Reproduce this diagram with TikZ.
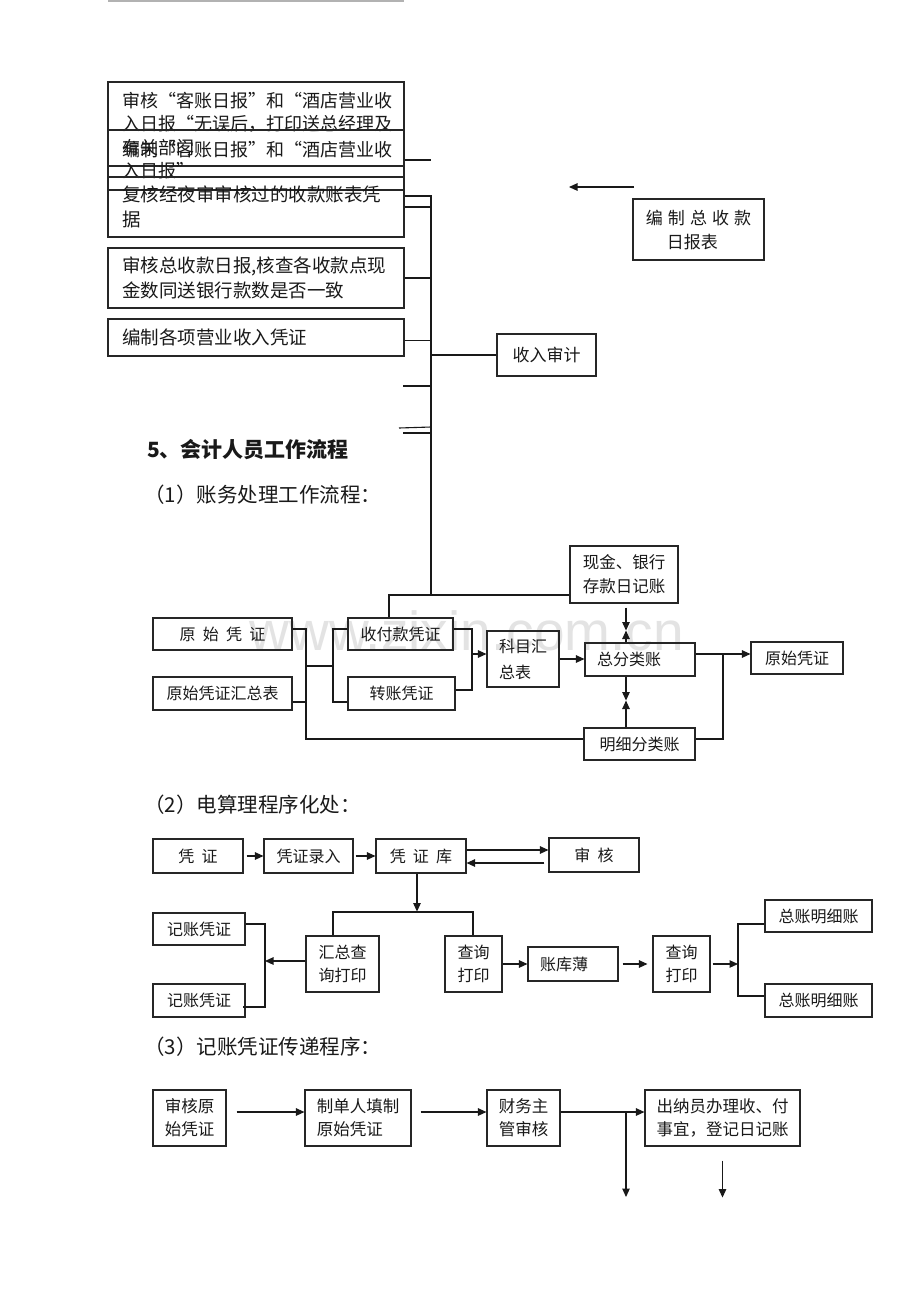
\documentclass[tikz,border=0pt]{standalone}
\usepackage{fontspec}
\setmainfont{Noto Sans CJK SC}
\newfontfamily\wmfont{Liberation Sans}
\usetikzlibrary{arrows.meta,calc}
\newcommand\fs[2]{\fontsize{#1pt}{#2pt}\selectfont}
\newcommand\gap{\hspace{0.45em}}
\newcommand\mkbox[7][]{\node[box,minimum width={#5pt-#3pt},minimum height={#6pt-#4pt},align=center,#1] (#2) at ({(#3+#5)/2},{(#4+#6)/2}) {#7};}
\newcommand\mkpbox[8][]{\node[box,minimum width={#5pt-#3pt},minimum height={#6pt-#4pt},inner xsep=#7pt,text width={#5pt-#3pt-2*#7pt},align=left,#1] (#2) at ({(#3+#5)/2},{(#4+#6)/2}) {#8};}
\begin{document}
\begin{tikzpicture}[x=1pt,y=-1pt,
 box/.style={draw=black!85, line width=1.1pt, inner sep=0pt, font=\fs{16}{23}, text=black!90},
 ln/.style={line width=1.1pt, draw=black!90},
 arr/.style={ln, -{Triangle[length=8.5pt,width=7.5pt]}},
 head/.style={anchor=west, inner sep=0pt, text=black!90}]
\useasboundingbox (0,0) rectangle (920,1302);
\fill[white] (0,0) rectangle (920,1302);

% watermark
\node[anchor=base east, inner sep=0pt, font=\wmfont\fontsize{55pt}{55pt}\selectfont, text=black!11] (wm) at (684,650) {www.zixin.com.cn};

% top rule
\coordinate (tl1) at (108,1); \coordinate (tl2) at (404,1);
\draw[gray!60, line width=1.2pt] (tl1) -- (tl2);

% ---------- top part ----------
\mkpbox[font=\fs{18}{23.5}]{a1}{108}{82}{404}{166}{14}{审核“客账日报”和“酒店营业收\\入日报“无误后，打印送总经理及\\有关部门}
\mkpbox[font=\fs{18}{21}]{a2}{108}{130}{404}{190}{14}{编制“客账日报”和“酒店营业收\\入日报”}
\mkpbox[font=\fs{18.5}{25}]{a3}{108}{177}{404}{237}{14}{复核经夜审审核过的收款账表凭\\据}
\mkpbox[font=\fs{18.5}{25}]{b1}{108}{248}{404}{308}{14}{审核总收款日报,核查各收款点现\\金数同送银行款数是否一致}
\mkpbox[font=\fs{18.5}{24}]{c1}{108}{319}{404}{356}{14}{编制各项营业收入凭证}
\mkbox[font=\fs{17}{24}]{sr}{497}{334}{596}{376}{收入审计}
\mkbox[align=left,font=\fs{17}{24}]{zb}{633}{199}{764}{260}{编\hspace{0.3em}制\hspace{0.3em}总\hspace{0.3em}收\hspace{0.3em}款\\\hspace*{21pt}日报表}

% headings
\node[head, font=\fs{21}{25}\bfseries] (h5) at (147,450) {5、会计人员工作流程};
\node[head, font=\fs{20.5}{25}] (h1) at (144,495) {（1）账务处理工作流程：};
\node[head, font=\fs{20.5}{25}] (h2) at (144,805) {（2）电算理程序化处：};
\node[head, font=\fs{20.5}{25}] (h3) at (144,1047) {（3）记账凭证传递程序：};

% ---------- section 1 ----------
\mkbox{ys1}{153}{618}{292}{650}{原\gap 始\gap 凭\gap 证}
\mkbox{ysh}{153}{677}{292}{710}{原始凭证汇总表}
\mkbox{skp}{348}{618}{453}{650}{收付款凭证}
\mkbox{zz}{348}{677}{455}{710}{转账凭证}
\mkbox[align=left,font=\fs{16}{26}]{km}{487}{631}{559}{687}{科目汇\\总表}
\mkpbox{zfl}{585}{643}{695}{676}{12}{总分类账}
\mkbox[font=\fs{16.5}{24}]{xj}{570}{546}{678}{603}{现金、银行\\存款日记账}
\mkbox{mx}{584}{728}{695}{760}{明细分类账}
\mkbox{ys2}{751}{642}{843}{674}{原始凭证}

% ---------- section 2 ----------
\mkbox{pz}{153}{839}{243}{873}{凭\gap 证}
\mkbox{pzlr}{264}{839}{353}{873}{凭证录入}
\mkbox{pzk}{376}{839}{466}{873}{凭\gap 证\gap 库}
\mkbox{sh}{549}{838}{639}{872}{审\gap 核}
\mkbox{jz1}{153}{913}{245}{945}{记账凭证}
\mkbox{jz2}{153}{984}{245}{1017}{记账凭证}
\mkbox[align=left]{hz}{306}{936}{379}{992}{汇总查\\询打印}
\mkbox[align=left]{cx1}{445}{936}{502}{992}{查询\\打印}
\mkpbox{zkb}{528}{947}{618}{981}{12}{账库薄}
\mkbox[align=left]{cx2}{653}{936}{710}{992}{查询\\打印}
\mkbox{zm1}{765}{900}{872}{932}{总账明细账}
\mkbox{zm2}{765}{984}{872}{1017}{总账明细账}

% ---------- section 3 ----------
\mkbox[align=left,font=\fs{16.5}{23}]{s31}{153}{1090}{226}{1146}{审核原\\始凭证}
\mkbox[align=left,font=\fs{16.5}{23}]{s32}{305}{1090}{411}{1146}{制单人填制\\原始凭证}
\mkbox[align=left,font=\fs{16.5}{23}]{s33}{487}{1090}{560}{1146}{财务主\\管审核}
\mkbox[align=left,font=\fs{16.5}{23}]{s34}{645}{1090}{800}{1146}{出纳员办理收、付\\事宜，登记日记账}

% ---------- connectors: top ----------
\coordinate (t1) at (431,196);
\coordinate (t2) at (431,596);
\draw[ln] ($(a3.east)+(0,-11)$) -- (t1) -- (t2);
\draw[ln] (a2.east) -- (a2.east -| t1);
\draw[ln] (a3.east) -- (a3.east -| t1);
\draw[ln] (b1.east) -- (b1.east -| t1);
\draw[ln] ([yshift=-3pt]c1.east) -- ([yshift=-3pt]c1.east -| t1);
\draw[ln] (sr.west -| t1) -- (sr.west);
\coordinate (s1) at (403,386); \draw[ln] (s1) -- (s1 -| t1);
\coordinate (s2) at (399,428); \coordinate (s2e) at (431,427); \draw[ln] (s2) -- (s2e);
\coordinate (s3) at (403,433); \draw[ln] (s3) -- (s3 -| t1);
\coordinate (ar1) at (634,187); \coordinate (ar2) at (569,187); \draw[arr] (ar1) -- (ar2);
\coordinate (j1) at (389,595);
\draw[ln] (xj.west |- j1) -- (j1) -- (j1 |- skp.north);

% ---------- connectors: section 1 ----------
\coordinate (v1) at (306,629);
\coordinate (v1b) at (306,739);
\coordinate (v1c) at (306,702);
\coordinate (v2m) at (333,666);
\coordinate (v2a) at (333,629);
\coordinate (v2b) at (333,702);
\coordinate (v3a) at (472,629);
\coordinate (v3b) at (472,690);
\coordinate (v3m) at (472,654);
\draw[ln] (ys1.east |- v1) -- (v1) -- (v1b) -- (mx.west |- v1b);
\draw[ln] (ysh.east |- v1c) -- (v1c);
\draw[ln] (v1 |- v2m) -- (v2m);
\draw[ln] (skp.west |- v2a) -- (v2a) -- (v2b) -- (zz.west |- v2b);
\draw[ln] (skp.east |- v3a) -- (v3a) -- (v3b) -- (zz.east |- v3b);
\draw[arr] (v3m) -- (km.west |- v3m);
\draw[arr] (km.east) -- (zfl.west |- km.east);
\coordinate (xa) at ($(xj.south)+(2,0)$);
\draw[arr] ($(xa)+(0,4)$) -- ($(xa)+(0,27)$);
\draw[arr] (zfl.north -| xa) -- ($(xa)+(0,27)$);
\draw[arr] (zfl.south -| xa) -- ($(zfl.south -| xa)+(0,24)$);
\draw[arr] (mx.north -| xa) -- ($(zfl.south -| xa)+(0,24)$);
\coordinate (r1) at (723,654);
\coordinate (r2) at (723,739);
\draw[arr] (zfl.east |- r1) -- (ys2.west |- r1);
\draw[ln] (r1) -- (r2) -- (mx.east |- r2);

% ---------- connectors: section 2 ----------
\draw[arr] ([xshift=3pt]pz.east) -- (pzlr.west);
\draw[arr] ([xshift=2pt]pzlr.east) -- (pzk.west);
\draw[arr] ([yshift=6pt]pzk.east) -- ([yshift=6pt]pzk.east -| sh.west);
\draw[arr] ([xshift=-4pt,yshift=-7pt]pzk.east -| sh.west) -- ([yshift=-7pt]pzk.east);
\coordinate (h1c) at (333,912);
\coordinate (h2c) at (473,912);
\draw[arr] ([xshift=-4pt]pzk.south) -- ([xshift=-4pt,yshift=-38pt]pzk.south);
\draw[ln] (hz.north -| h1c) -- (h1c) -- (h2c) -- (cx1.north -| h2c);
\coordinate (k1) at (265,961);
\coordinate (k2) at (265,924);
\coordinate (k3) at (265,1007);
\draw[arr] (hz.west |- k1) -- (k1);
\draw[ln] (jz1.east |- k2) -- (k2) -- (k3) -- ([xshift=-3pt]jz2.east |- k3);
\draw[arr] (cx1.east) -- (zkb.west);
\draw[arr] ([xshift=4pt]zkb.east) -- ([xshift=-5pt]cx2.west);
\coordinate (m1) at (738,964);
\coordinate (n1) at (738,924);
\coordinate (n2) at (738,996);
\draw[arr] ([xshift=2pt]cx2.east) -- (m1);
\draw[ln] (zm1.west |- n1) -- (n1) -- (n2) -- (zm2.west |- n2);

% ---------- connectors: section 3 ----------
\draw[arr] ([xshift=10pt,yshift=6pt]s31.east) -- ([yshift=6pt]s32.west);
\draw[arr] ([xshift=9pt,yshift=6pt]s32.east) -- ([yshift=6pt]s33.west);
\draw[arr] ([yshift=6pt]s33.east) -- ([yshift=6pt]s34.west);
\coordinate (d1) at (626,1197);
\draw[arr] ([yshift=6pt]s33.east -| d1) -- (d1);
\draw[arr] ([yshift=-14pt]s34.south) -- ([yshift=-51pt]s34.south);
\end{tikzpicture}
\end{document}
